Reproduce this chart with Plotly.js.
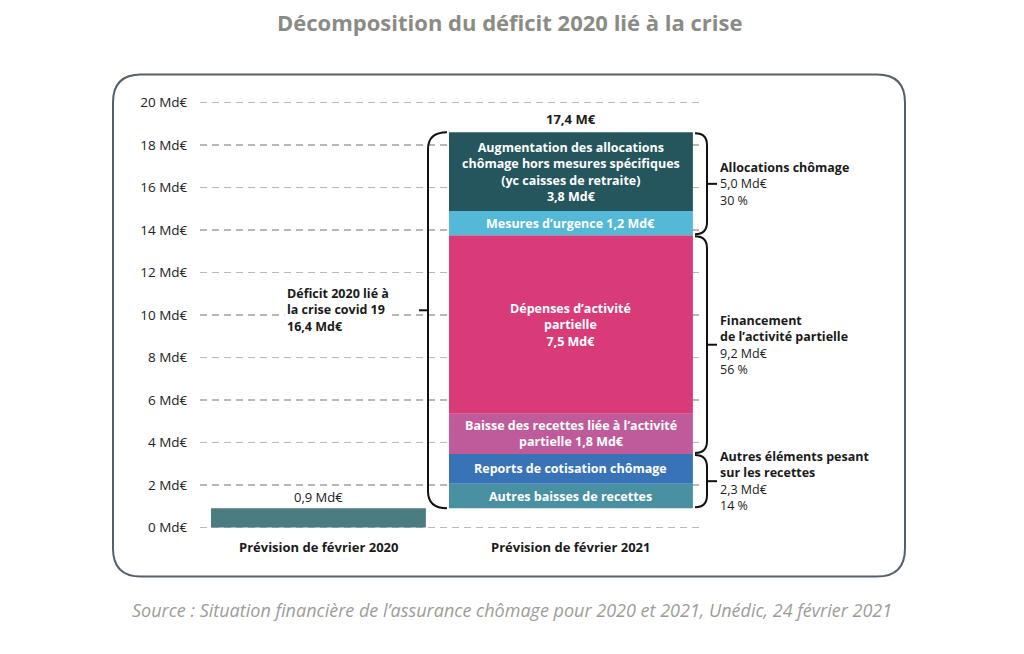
<!DOCTYPE html>
<html><head><meta charset="utf-8">
<script src="https://cdn.plot.ly/plotly-3.0.1.min.js"></script>
<style>html,body{margin:0;padding:0;background:#fff}#chart{width:1024px;height:654px}</style>
</head><body><div id="chart"></div>
<script>
// ---------- DATA ----------
const categories = ['Prévision de février 2020', 'Prévision de février 2021'];
const deficit2020Value = 0.9;
const barTopLabels = ['0,9 Md€', '17,4 M€'];
const segmentValues = [1.15, 1.4, 1.9, 8.4, 1.15, 3.7];
const segmentLabels = [
  'Autres baisses de recettes',
  'Reports de cotisation chômage',
  'Baisse des recettes liée à l’activité<br>partielle 1,8 Md€',
  'Dépenses d’activité<br>partielle<br>7,5 Md€',
  'Mesures d’urgence 1,2 Md€',
  'Augmentation des allocations<br>chômage hors mesures spécifiques<br>(yc caisses de retraite)<br>3,8 Md€'
];
const segmentColors = ['#4a90a3', '#3873b8', '#bf5b9b', '#d93b79', '#53b9d6', '#25565d'];
const groupFirstSegment = [0, 2, 4];
const groupLastSegment = [1, 3, 5];
const groupLabels = [
  '<b>Autres éléments pesant<br>sur les recettes</b><br>2,3 Md€<br>14 %',
  '<b>Financement<br>de l’activité partielle</b><br>9,2 Md€<br>56 %',
  '<b>Allocations chômage</b><br>5,0 Md€<br>30 %'
];
const deficitLabel = 'Déficit 2020 lié à<br>la crise covid 19<br>16,4 Md€';
const yTickValues = [0, 2, 4, 6, 8, 10, 12, 14, 16, 18, 20];
const yTickLabels = ['0 Md€', '2 Md€', '4 Md€', '6 Md€', '8 Md€', '10 Md€', '12 Md€', '14 Md€', '16 Md€', '18 Md€', '20 Md€'];
const titleText = 'Décomposition du déficit 2020 lié à la crise';
const sourceText = 'Source : Situation financière de l’assurance chômage pour 2020 et 2021, Unédic, 24 février 2021';

// ---------- LAYOUT GEOMETRY ----------
const FONT = '"Open Sans", Lato, sans-serif';
const W = 1024, H = 654;
const yMin = -0.5, yMax = 20.5;
const M = {l: 200, r: 322, t: 92.4, b: 116.4};
const PW = W - M.l - M.r, PH = H - M.t - M.b;
const ppu = PH / (yMax - yMin);
const X = px => (px - M.l) / PW;
const Y = py => (M.t + PH - py) / PH;
const barWidths = [0.851, 0.966];

// cumulative bases
const bases = [];
let acc = deficit2020Value;
segmentValues.forEach(v => { bases.push(acc); acc += v; });
const barTop = acc;

// ---------- TRACES ----------
const traces = [{
  type: 'bar', x: [0], y: [deficit2020Value], base: [0], width: [barWidths[0]],
  marker: {color: '#4a7c82', line: {width: 0}}, hoverinfo: 'skip'
}];
segmentValues.forEach((v, i) => {
  traces.push({
    type: 'bar', x: [1], y: [v], base: [bases[i]], width: [barWidths[1]],
    marker: {color: segmentColors[i], line: {width: 0}}, hoverinfo: 'skip'
  });
});

// ---------- ANNOTATIONS ----------
const ann = [];
ann.push({xref: 'paper', yref: 'paper', x: X(509), y: Y(23), xanchor: 'center', yanchor: 'middle',
  text: '<b>' + titleText + '</b>', showarrow: false, font: {family: FONT, size: 22, color: '#8b8b85'}});
ann.push({xref: 'paper', yref: 'paper', x: X(512), y: Y(609), xanchor: 'center', yanchor: 'middle',
  text: '<i>' + sourceText + '</i>', showarrow: false, font: {family: FONT, size: 18, color: '#9d9d97'}});
categories.forEach((c, i) => {
  ann.push({xref: 'x', yref: 'paper', x: i, y: Y(547), xanchor: 'center', yanchor: 'middle',
    text: '<b>' + c + '</b>', showarrow: false, font: {family: FONT, size: 13, color: '#1a1a1a'}});
});
ann.push({xref: 'x', yref: 'y', x: 0, y: deficit2020Value, yanchor: 'bottom', yshift: 0,
  text: barTopLabels[0], showarrow: false, font: {family: FONT, size: 13, color: '#1a1a1a'}});
ann.push({xref: 'x', yref: 'y', x: 1, y: barTop, yanchor: 'bottom', yshift: 2,
  text: '<b>' + barTopLabels[1] + '</b>', showarrow: false, font: {family: FONT, size: 13, color: '#1a1a1a'}});
segmentValues.forEach((v, i) => {
  ann.push({xref: 'x', yref: 'y', x: 1, y: bases[i] + v / 2, yanchor: 'middle', text: '<b>' + segmentLabels[i] + '</b>',
    showarrow: false, font: {family: FONT, size: 12.5, color: '#ffffff'}});
});

// ---------- BRACES ----------
const shapes = [];
const lineStyle = {color: '#111111', width: 2};
// outer rounded box
(function () {
  const x0 = X(113), x1 = X(905), y0 = Y(75), y1 = Y(576);
  const rx = 28 / PW, ry = 28 / PH;
  const p = `M ${x0 + rx},${y0} L ${x1 - rx},${y0} Q ${x1},${y0} ${x1},${y0 - ry} L ${x1},${y1 + ry} Q ${x1},${y1} ${x1 - rx},${y1} L ${x0 + rx},${y1} Q ${x0},${y1} ${x0},${y1 + ry} L ${x0},${y0 - ry} Q ${x0},${y0} ${x0 + rx},${y0} Z`;
  shapes.push({type: 'path', xref: 'paper', yref: 'paper', path: p, line: {color: '#56606b', width: 2}, layer: 'below'});
})();
// left brace for the whole 2021 deficit
const leftMid = (deficit2020Value + barTop) / 2 + 10 / ppu;
(function () {
  const xe = X(447), xv = X(428), xt = X(419), r = 17 / ppu;
  const yT = barTop, yB = deficit2020Value;
  shapes.push({type: 'path', xref: 'paper', yref: 'y', line: lineStyle,
    path: `M ${xe},${yT} Q ${xv},${yT} ${xv},${yT - r} L ${xv},${yB + r} Q ${xv},${yB} ${xe},${yB}`});
  shapes.push({type: 'path', xref: 'paper', yref: 'y', line: lineStyle,
    path: `M ${xt},${leftMid} L ${xv},${leftMid}`});
})();
ann.push({xref: 'paper', yref: 'y', x: X(284), y: leftMid, xanchor: 'left', yanchor: 'middle', align: 'left',
  bgcolor: '#ffffff', borderpad: 2,
  text: '<b>' + deficitLabel + '</b>', showarrow: false, font: {family: FONT, size: 12.5, color: '#1a1a1a'}});
// right braces per group
groupFirstSegment.forEach((s, g) => {
  const e = groupLastSegment[g];
  const yB = bases[s] + 1 / ppu, yT = bases[e] + segmentValues[e] - 1 / ppu;
  const mid = (yB + yT) / 2;
  const xe = X(695), xv = X(707), xt = X(717), r = 12 / ppu;
  shapes.push({type: 'path', xref: 'paper', yref: 'y', line: lineStyle,
    path: `M ${xe},${yT} Q ${xv},${yT} ${xv},${yT - r} L ${xv},${yB + r} Q ${xv},${yB} ${xe},${yB}`});
  shapes.push({type: 'path', xref: 'paper', yref: 'y', line: lineStyle,
    path: `M ${xv},${mid} L ${xt},${mid}`});
  ann.push({xref: 'paper', yref: 'y', x: X(718), y: mid, xanchor: 'left', yanchor: 'middle', align: 'left',
    text: groupLabels[g], showarrow: false, font: {family: FONT, size: 12.5, color: '#1a1a1a'}});
});

const layout = {
  width: W, height: H, margin: M, showlegend: false, barmode: 'overlay',
  paper_bgcolor: '#ffffff', plot_bgcolor: '#ffffff',
  font: {family: FONT},
  xaxis: {range: [-0.469, 1.519], showgrid: false, zeroline: false, showticklabels: false, showline: false, fixedrange: true},
  yaxis: {range: [yMin, yMax], tickvals: yTickValues, ticktext: yTickLabels, showgrid: true,
    gridcolor: '#b8b8b8', gridwidth: 1.3, griddash: '7px,5px', zeroline: false, showline: false,
    ticks: 'outside', ticklen: 9, tickcolor: 'rgba(0,0,0,0)',
    tickfont: {family: FONT, size: 13.5, color: '#222222'}, fixedrange: true},
  annotations: ann, shapes: shapes
};
Plotly.newPlot('chart', traces, layout, {displayModeBar: false, staticPlot: true});
</script>
</body></html>
